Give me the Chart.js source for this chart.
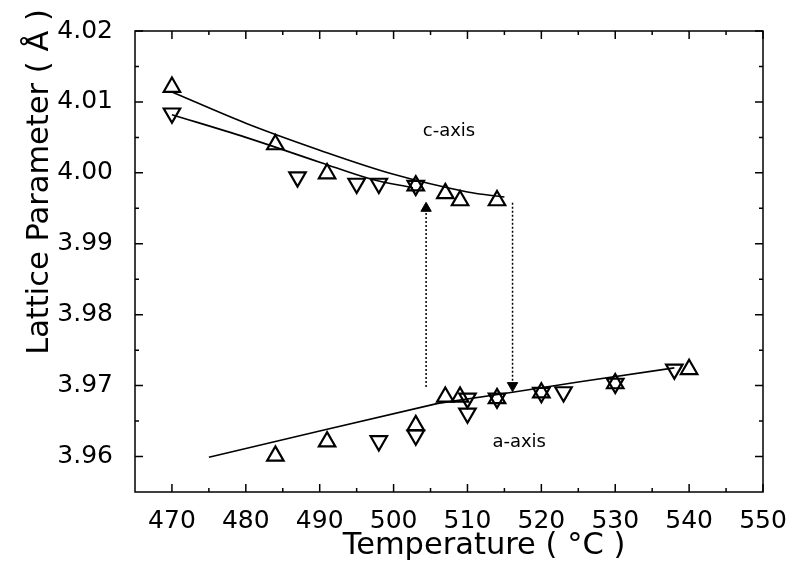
<!DOCTYPE html>
<html>
<head>
<meta charset="utf-8">
<script src="https://cdn.jsdelivr.net/npm/chart.js@4.4.1/dist/chart.umd.min.js"></script>
<style>
  html, body { margin: 0; padding: 0; background: #fff; }
  #latticeChart { display: block; }
</style>
</head>
<body>
<canvas id="latticeChart" width="793" height="569"></canvas>
<script>
// tick labels
var xTicks = [470, 480, 490, 500, 510, 520, 530, 540, 550];
var yTicks = [3.96, 3.97, 3.98, 3.99, 4.00, 4.01, 4.02];

// c-axis, up triangles / down triangles
var cUpTemp = [470, 484, 491, 503, 507, 509, 514];
var cUpVal = [4.0121, 4.0040, 3.9999, 3.9982, 3.9971, 3.9961, 3.9961];
var cDownTemp = [470, 487, 495, 498, 503];
var cDownVal = [4.0084, 3.9994, 3.9985, 3.9985, 3.9982];

// a-axis, up triangles / down triangles
var aUpTemp = [484, 491, 503, 507, 509, 514, 520, 530, 540];
var aUpVal = [3.9601, 3.9621, 3.9644, 3.9684, 3.9684, 3.9682, 3.9690, 3.9703, 3.9723];
var aDownTemp = [498, 503, 510, 510, 514, 520, 523, 530, 538];
var aDownVal = [3.9622, 3.9630, 3.9682, 3.9661, 3.9682, 3.9690, 3.9691, 3.9703, 3.9723];

// fitted curves
var cUpFitTemp = [470, 480, 490, 500, 510, 515];
var cUpFitVal = [4.0114, 4.0070, 4.0032, 3.9998, 3.9973, 3.9966];
var cDownFitTemp = [470, 480, 490, 497, 502.6];
var cDownFitVal = [4.0082, 4.0050, 4.0015, 3.9991, 3.9979];
var aFitTemp = [475, 490, 506, 515, 525, 538];
var aFitVal = [3.9599, 3.9636, 3.9675, 3.9689, 3.9705, 3.9725];

// dotted arrows (tail -> head)
var upArrowTemp = [504.4, 504.4];
var upArrowVal = [3.9698, 3.9950];
var downArrowTemp = [516.1, 516.1];
var downArrowVal = [3.9958, 3.9700];

var notes = [
  { text: 'c-axis', t: 507.5, v: 4.0058 },
  { text: 'a-axis', t: 517, v: 3.9620 }
];

function pts(ts, vs) {
  return ts.map(function (t, i) { return { x: t, y: vs[i] }; });
}

function markers(ts, vs, rot) {
  return {
    data: pts(ts, vs),
    showLine: false,
    pointStyle: 'triangle',
    rotation: rot,
    pointRadius: 9.5,
    pointBorderWidth: 2.2,
    pointBorderColor: '#000',
    pointBackgroundColor: 'rgba(0,0,0,0)'
  };
}

function fit(ts, vs, tension) {
  return {
    data: pts(ts, vs),
    borderColor: '#000',
    borderWidth: 1.6,
    pointRadius: 0,
    tension: tension
  };
}

function arrow(ts, vs, rot) {
  return {
    data: pts(ts, vs),
    borderColor: '#000',
    borderWidth: 1.5,
    borderDash: [2, 2],
    pointStyle: 'triangle',
    rotation: rot,
    pointRadius: [0, 6],
    pointBorderWidth: 1,
    pointBorderColor: '#000',
    pointBackgroundColor: '#000'
  };
}

var FONT = '"DejaVu Sans", "Liberation Sans", Arial, sans-serif';

// frame with inward ticks on all four sides
var frameTicks = {
  id: 'frameTicks',
  afterDraw: function (chart) {
    var ctx = chart.ctx, a = chart.chartArea;
    var x = chart.scales.x, y = chart.scales.y;
    ctx.save();
    ctx.strokeStyle = '#000';
    ctx.lineWidth = 1.5;
    ctx.strokeRect(a.left, a.top, a.right - a.left, a.bottom - a.top);
    ctx.beginPath();
    xTicks.forEach(function (v) {
      var p = x.getPixelForValue(v);
      ctx.moveTo(p, a.bottom); ctx.lineTo(p, a.bottom - 8);
      ctx.moveTo(p, a.top); ctx.lineTo(p, a.top + 8);
      var m = x.getPixelForValue(v + 5);
      if (v + 5 < x.max) {
        ctx.moveTo(m, a.bottom); ctx.lineTo(m, a.bottom - 4);
        ctx.moveTo(m, a.top); ctx.lineTo(m, a.top + 4);
      }
    });
    yTicks.forEach(function (v) {
      var p = y.getPixelForValue(v);
      ctx.moveTo(a.left, p); ctx.lineTo(a.left + 8, p);
      ctx.moveTo(a.right, p); ctx.lineTo(a.right - 8, p);
      var m = y.getPixelForValue(v + 0.005);
      if (v + 0.005 < y.max) {
        ctx.moveTo(a.left, m); ctx.lineTo(a.left + 4, m);
        ctx.moveTo(a.right, m); ctx.lineTo(a.right - 4, m);
      }
    });
    ctx.stroke();
    ctx.restore();
  }
};

// in-plot notes and axis titles
var labelsPlugin = {
  id: 'labelsPlugin',
  afterDraw: function (chart) {
    var ctx = chart.ctx, x = chart.scales.x, y = chart.scales.y;
    ctx.save();
    ctx.fillStyle = '#000';
    ctx.textAlign = 'center';
    ctx.textBaseline = 'middle';
    ctx.font = '18px ' + FONT;
    notes.forEach(function (n) {
      ctx.fillText(n.text, x.getPixelForValue(n.t), y.getPixelForValue(n.v));
    });
    ctx.font = '30.5px ' + FONT;
    ctx.fillText('Temperature ( \u00B0C )', 484, 546);
    ctx.translate(40, 182);
    ctx.rotate(-Math.PI / 2);
    ctx.fillText('Lattice Parameter ( \u00C5 )', 0, 0);
    ctx.restore();
  }
};

new Chart(document.getElementById('latticeChart'), {
  type: 'line',
  data: {
    datasets: [
      fit(cUpFitTemp, cUpFitVal, 0.35),
      fit(cDownFitTemp, cDownFitVal, 0.35),
      fit(aFitTemp, aFitVal, 0),
      arrow(upArrowTemp, upArrowVal, 0),
      arrow(downArrowTemp, downArrowVal, 180),
      markers(cUpTemp, cUpVal, 0),
      markers(cDownTemp, cDownVal, 180),
      markers(aUpTemp, aUpVal, 0),
      markers(aDownTemp, aDownVal, 180)
    ]
  },
  options: {
    responsive: false,
    animation: false,
    devicePixelRatio: 1,
    layout: { padding: { left: 0, top: 31, right: 30, bottom: 0 } },
    plugins: {
      legend: { display: false },
      tooltip: { enabled: false }
    },
    scales: {
      x: {
        type: 'linear',
        min: 465,
        max: 550,
        afterBuildTicks: function (s) { s.ticks = xTicks.map(function (v) { return { value: v }; }); },
        afterFit: function (s) { s.height = 77; },
        grid: { display: false },
        border: { display: false },
        ticks: {
          color: '#000',
          padding: 6,
          maxRotation: 0,
          autoSkip: false,
          font: { family: FONT, size: 25 }
        }
      },
      y: {
        type: 'linear',
        min: 3.955,
        max: 4.02,
        afterBuildTicks: function (s) { s.ticks = yTicks.map(function (v) { return { value: v }; }); },
        afterFit: function (s) { s.width = 135; },
        grid: { display: false },
        border: { display: false },
        ticks: {
          color: '#000',
          padding: 14,
          autoSkip: false,
          font: { family: FONT, size: 25 },
          callback: function (v) { return v.toFixed(2); }
        }
      }
    }
  },
  plugins: [frameTicks, labelsPlugin]
});
</script>
</body>
</html>
